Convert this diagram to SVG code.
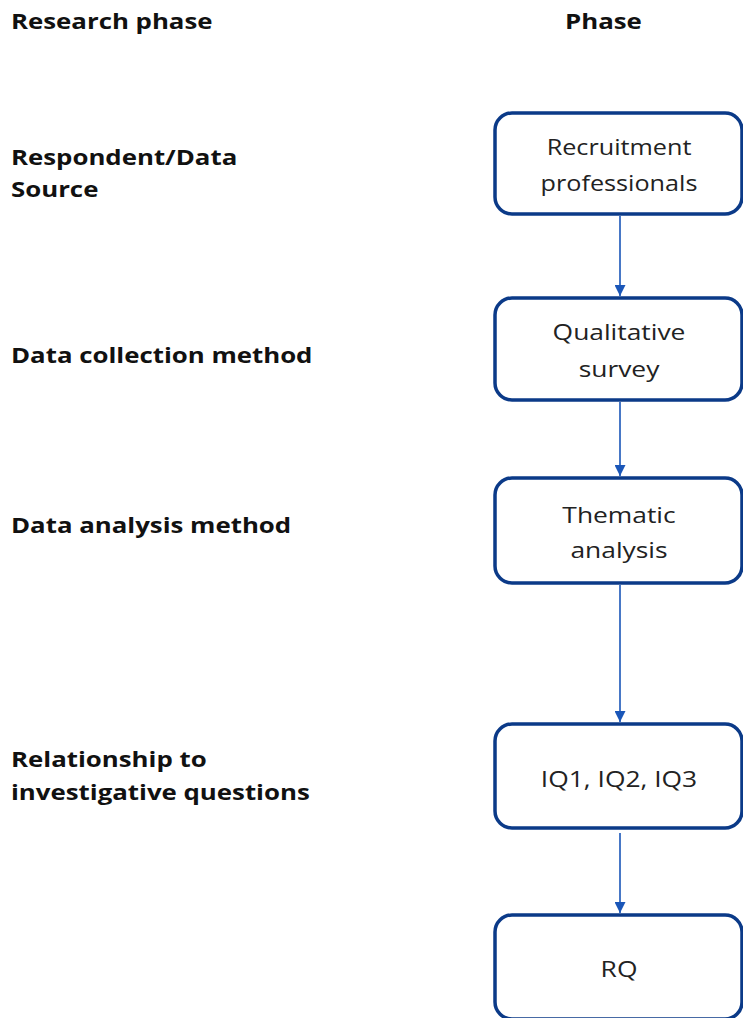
<svg xmlns="http://www.w3.org/2000/svg" width="743" height="1018" viewBox="0 0 743 1018">
<defs>
<style>
.lbl{font-family:"Open Sans","Liberation Sans",sans-serif;font-weight:bold;font-size:21px;fill:#111}
.box{fill:#fff;stroke:#0b3a88;stroke-width:3.5}
.bt{font-family:"Open Sans","Liberation Sans",sans-serif;font-size:22px;fill:#222;text-anchor:middle}
.sm{font-size:21px}
.con{stroke:#1a56b8;stroke-width:1.6;fill:none;marker-end:url(#ah)}
</style>
<marker id="ah" viewBox="0 0 10 10" refX="10" refY="5" markerWidth="11" markerHeight="11" markerUnits="userSpaceOnUse" orient="auto">
<path d="M0,0 L10,5 L0,10 z" fill="#1a56b8"/>
</marker>
</defs>
<rect width="743" height="1018" fill="#fff"/>
<g id="labels">
<text class="lbl" transform="translate(11,29) scale(1.23,1)">Research phase</text>
<text class="lbl" transform="translate(565,29) scale(1.23,1)">Phase</text>
<text class="lbl" transform="translate(11,165) scale(1.23,1)">Respondent/Data</text>
<text class="lbl" transform="translate(11,197) scale(1.23,1)">Source</text>
<text class="lbl" transform="translate(11,363) scale(1.23,1)">Data collection method</text>
<text class="lbl" transform="translate(11,533) scale(1.23,1)">Data analysis method</text>
<text class="lbl" transform="translate(11,767) scale(1.23,1)">Relationship to</text>
<text class="lbl" transform="translate(11,800) scale(1.23,1)">investigative questions</text>
</g>
<g id="connectors">
<line class="con" x1="620" y1="216" x2="620" y2="296"/>
<line class="con" x1="620" y1="402" x2="620" y2="476"/>
<line class="con" x1="620" y1="585" x2="620" y2="722"/>
<line class="con" x1="620" y1="833" x2="620" y2="913"/>
</g>
<g id="n1"><rect class="box" x="495" y="113" width="247" height="101" rx="17"/>
<text class="bt sm" transform="translate(619,155) scale(1.2,1)">Recruitment</text><text class="bt sm" transform="translate(619,191) scale(1.2,1)">professionals</text></g>
<g id="n2"><rect class="box" x="495" y="298" width="247" height="102" rx="17"/>
<text class="bt" transform="translate(619,340) scale(1.2,1)">Qualitative</text><text class="bt" transform="translate(619,377) scale(1.2,1)">survey</text></g>
<g id="n3"><rect class="box" x="495" y="478" width="247" height="105" rx="17"/>
<text class="bt" transform="translate(619,523) scale(1.2,1)">Thematic</text><text class="bt" transform="translate(619,558) scale(1.2,1)">analysis</text></g>
<g id="n4"><rect class="box" x="495" y="724" width="247" height="104" rx="17"/>
<text class="bt" transform="translate(619,787) scale(1.2,1)">IQ1, IQ2, IQ3</text></g>
<g id="n5"><rect class="box" x="495" y="915" width="247" height="104" rx="17"/>
<text class="bt" transform="translate(619,977) scale(1.2,1)">RQ</text></g>
</svg>
